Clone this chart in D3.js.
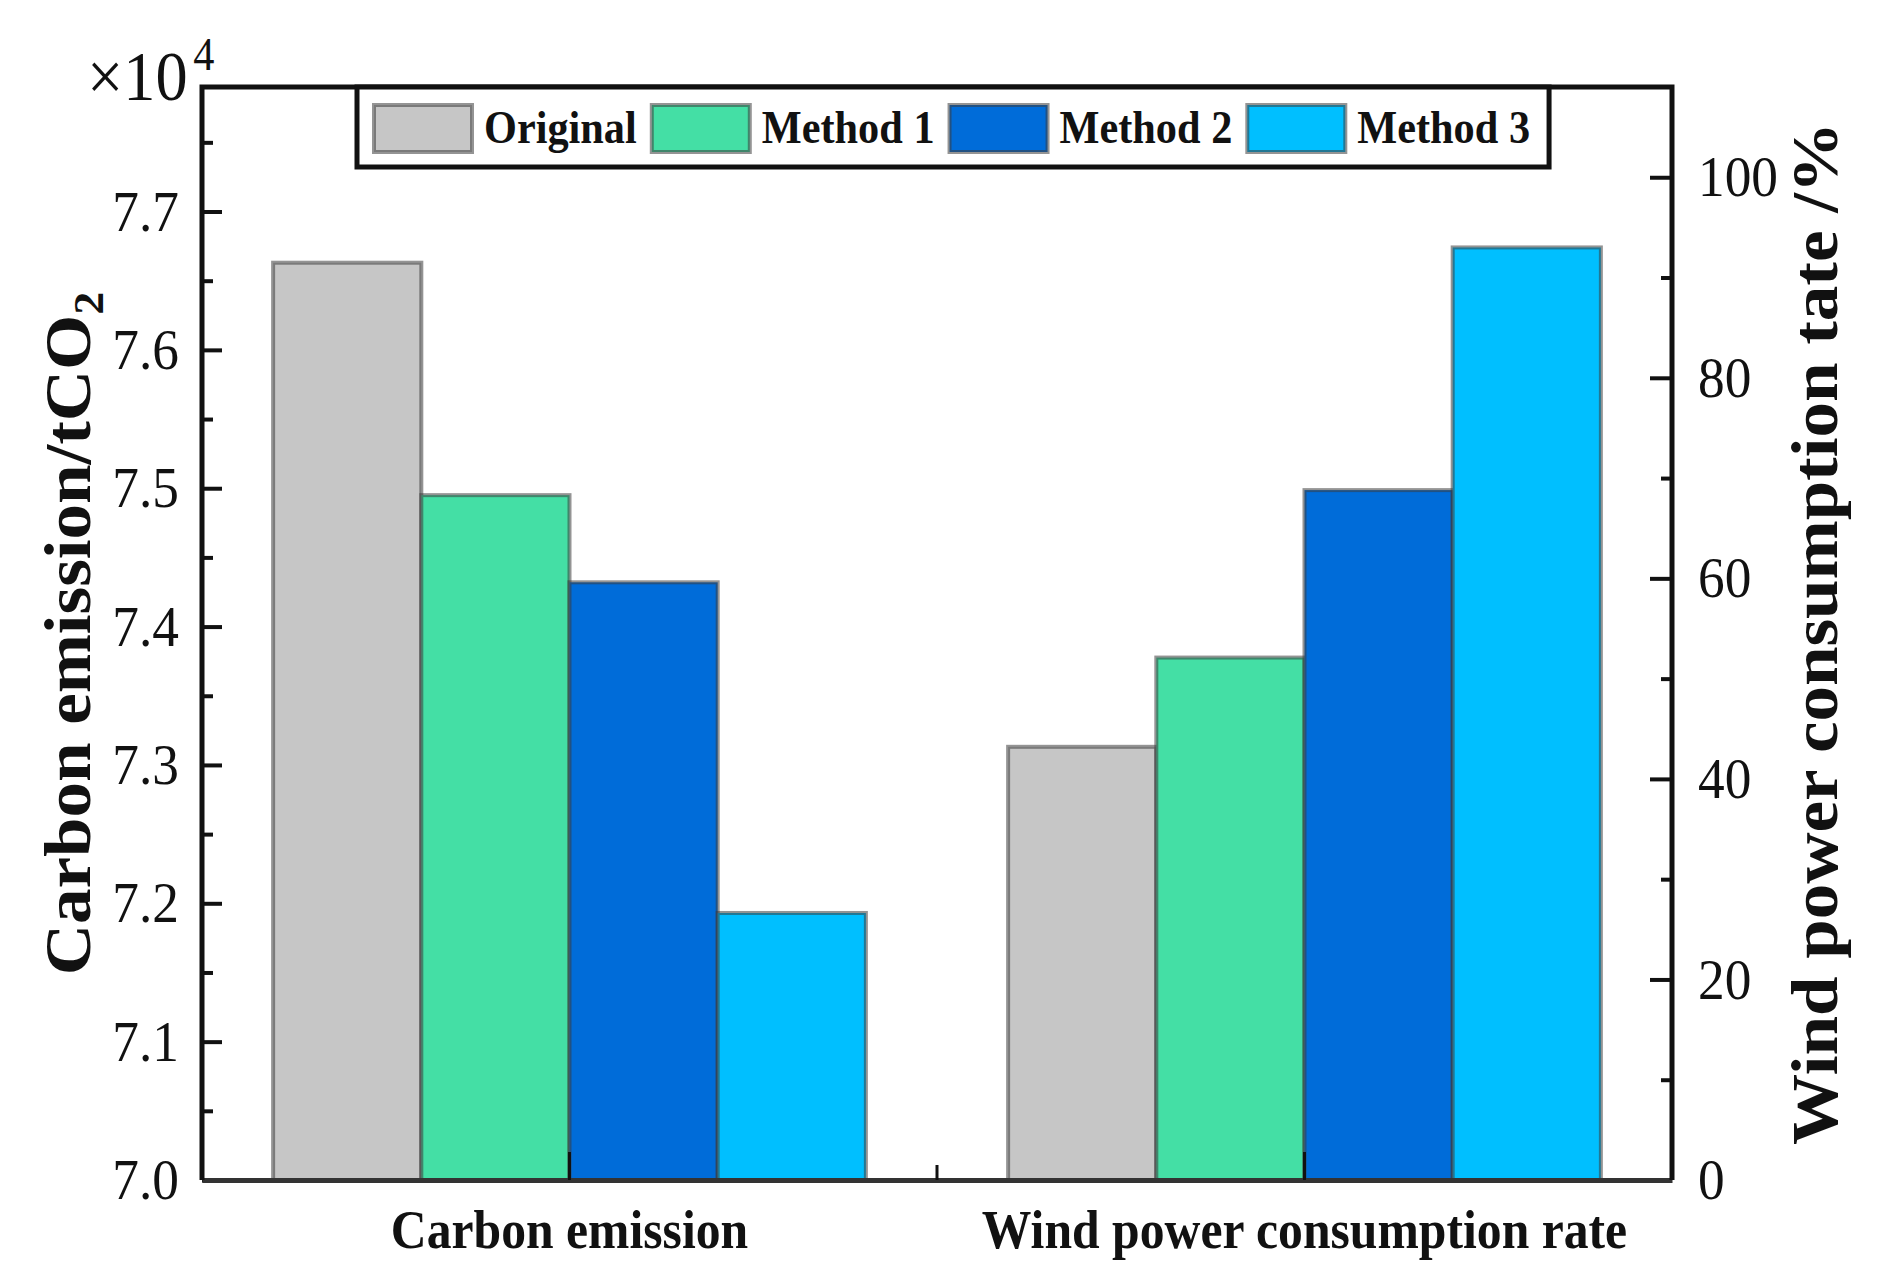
<!DOCTYPE html>
<html>
<head>
<meta charset="utf-8">
<script src="https://cdn.jsdelivr.net/npm/d3@7"></script>
<style>
    body { margin: 0; background: #fff; }
    text { font-family: 'Liberation Serif', 'Times New Roman', serif; fill: #111; }
</style>
</head>
<body>
<div id="chart"></div>
<script>
const categories = ['Carbon emission', 'Wind power consumption rate'];
const methods = ['Original', 'Method 1', 'Method 2', 'Method 3'];
const carbonEmission = [76630, 74950, 74320, 71930];   // tCO2
const windConsumption = [43.2, 52.1, 68.8, 93.0];       // %
const leftTicks = [7.0, 7.1, 7.2, 7.3, 7.4, 7.5, 7.6, 7.7];
const leftMinor = [7.05, 7.15, 7.25, 7.35, 7.45, 7.55, 7.65, 7.75];
const rightTicks = [0, 20, 40, 60, 80, 100];
const rightMinor = [10, 30, 50, 70, 90];
const colors = ['#c6c6c6', '#44dfa5', '#006cd9', '#00bfff'];

let width = 1903,
    height = 1275,
    margin = {left: 202, top: 87, right: 231, bottom: 95},
    plotW = width - margin.left - margin.right,
    plotH = height - margin.top - margin.bottom,
    squeeze = 0.92,
    barStroke = 'rgba(60,60,60,0.55)';

let svg = d3.select('#chart').append('svg')
    .attr('width', width)
    .attr('height', height);

let g = svg.append('g')
    .attr('transform', `translate(${margin.left}, ${margin.top})`);

const x0 = d3.scaleBand().domain(categories).range([0, plotW]).padding(0);
const x1 = d3.scaleBand().domain(methods).range([0, x0.bandwidth()])
    .paddingInner(0).paddingOuter(0.48);
const yLeft = d3.scaleLinear().domain([7.0, 7.79]).range([plotH, 0]);
const yRight = d3.scaleLinear().domain([0, 109]).range([plotH, 0]);

// narrow the glyphs a little, the source figure is slightly compressed
function squeezeText(sel) {
    sel.each(function () {
        const t = d3.select(this);
        const x = +t.attr('x') || 0;
        t.attr('x', x / squeeze).attr('transform', `scale(${squeeze},1)`);
    });
}

const groups = [
    {cat: categories[0], values: carbonEmission.map(v => v / 1e4), y: yLeft},
    {cat: categories[1], values: windConsumption, y: yRight}
];

// bars
g.append('g').selectAll('g')
    .data(groups)
    .join('g')
    .attr('transform', d => `translate(${x0(d.cat)}, 0)`)
    .selectAll('rect')
    .data(d => d.values.map((v, i) => ({m: methods[i], v, y: d.y, i})))
    .join('rect')
    .attr('x', d => x1(d.m))
    .attr('y', d => d.y(d.v))
    .attr('width', x1.bandwidth())
    .attr('height', d => plotH - d.y(d.v))
    .attr('fill', d => colors[d.i])
    .attr('stroke', barStroke)
    .attr('stroke-width', 4);

// left axis
const leftAxis = g.append('g')
    .call(d3.axisLeft(yLeft).tickValues(leftTicks).tickSize(-20).tickPadding(23)
        .tickFormat(d3.format('.1f')));
leftAxis.select('.domain').remove();
leftAxis.selectAll('line').attr('stroke', '#111').attr('stroke-width', 4);
leftAxis.selectAll('text').style('font-size', '58px');
leftAxis.selectAll('text').call(squeezeText);

const leftMinorAxis = g.append('g')
    .call(d3.axisLeft(yLeft).tickValues(leftMinor).tickSize(-11).tickFormat(''));
leftMinorAxis.select('.domain').remove();
leftMinorAxis.selectAll('line').attr('stroke', '#111').attr('stroke-width', 4);

// right axis
const rightAxis = g.append('g')
    .attr('transform', `translate(${plotW}, 0)`)
    .call(d3.axisRight(yRight).tickValues(rightTicks).tickSize(-22).tickPadding(26));
rightAxis.select('.domain').remove();
rightAxis.selectAll('line').attr('stroke', '#111').attr('stroke-width', 4);
rightAxis.selectAll('text').style('font-size', '58px');
rightAxis.selectAll('text').call(squeezeText);

const rightMinorAxis = g.append('g')
    .attr('transform', `translate(${plotW}, 0)`)
    .call(d3.axisRight(yRight).tickValues(rightMinor).tickSize(-11).tickFormat(''));
rightMinorAxis.select('.domain').remove();
rightMinorAxis.selectAll('line').attr('stroke', '#111').attr('stroke-width', 4);

// bottom axis
const bottomAxis = g.append('g')
    .attr('transform', `translate(0, ${plotH})`)
    .call(d3.axisBottom(x0).tickSizeInner(-28).tickSizeOuter(0).tickPadding(30));
bottomAxis.select('.domain').attr('stroke', '#333').attr('stroke-width', 5);
bottomAxis.selectAll('line').attr('stroke', '#111').attr('stroke-width', 3);
bottomAxis.selectAll('text')
    .style('font-size', '54px')
    .style('font-weight', 'bold');
bottomAxis.selectAll('text').call(squeezeText);

bottomAxis.append('line')
    .attr('x1', x0(categories[1])).attr('x2', x0(categories[1]))
    .attr('y1', 0).attr('y2', -15)
    .attr('stroke', '#111').attr('stroke-width', 3);

// frame: left, top, right
g.append('path')
    .attr('d', `M0,${plotH}V0H${plotW}V${plotH}`)
    .attr('fill', 'none')
    .attr('stroke', '#111')
    .attr('stroke-width', 5);

// legend
const legend = g.append('g').attr('transform', 'translate(155, 0)');
const legendBox = legend.append('rect')
    .attr('y', 0).attr('height', 80)
    .attr('fill', '#fff')
    .attr('stroke', '#111')
    .attr('stroke-width', 5);
let cursor = 17;
methods.forEach((m, i) => {
    legend.append('rect')
        .attr('x', cursor).attr('y', 18)
        .attr('width', 98).attr('height', 47)
        .attr('fill', colors[i])
        .attr('stroke', barStroke)
        .attr('stroke-width', 4);
    const t = legend.append('text')
        .attr('x', cursor + 98 + 12)
        .attr('y', 41.5)
        .attr('dy', '0.32em')
        .style('font-size', '46px')
        .style('font-weight', 'bold')
        .text(m);
    t.call(squeezeText);
    cursor += 98 + 12 + t.node().getComputedTextLength() * squeeze + 15;
});
legendBox.attr('width', cursor - 15 + 19);

// scale factor label
svg.append('text')
    .attr('transform', `translate(87, 100) scale(${squeeze},1)`)
    .style('font-size', '70px')
    .text('×10')
    .append('tspan')
    .attr('dx', 6)
    .attr('dy', -30)
    .style('font-size', '46px')
    .text('4');

// axis titles
const leftTitle = svg.append('text')
    .attr('transform', `translate(90, ${margin.top + plotH / 2}) rotate(-90) scale(1,${squeeze})`)
    .attr('text-anchor', 'middle')
    .style('font-size', '71px')
    .style('font-weight', 'bold')
    .text('Carbon emission/tCO');
leftTitle.append('tspan')
    .attr('dy', 14)
    .style('font-size', '46px')
    .text('2');

svg.append('text')
    .attr('transform', `translate(1837, ${margin.top + plotH / 2}) rotate(-90) scale(1,${squeeze})`)
    .attr('text-anchor', 'middle')
    .style('font-size', '71px')
    .style('font-weight', 'bold')
    .text('Wind power consumption tate /%');
</script>
</body>
</html>
